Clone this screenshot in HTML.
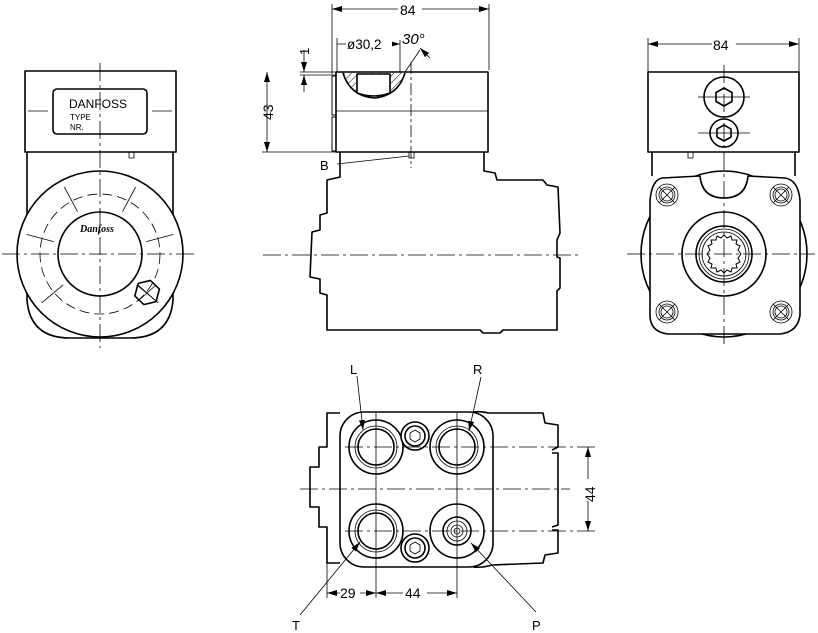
<!DOCTYPE html>
<html><head><meta charset="utf-8"><style>html,body{margin:0;padding:0;background:#fff}svg{display:block}</style></head><body>
<svg width="818" height="633" viewBox="0 0 818 633" xmlns="http://www.w3.org/2000/svg" font-family="Liberation Sans, sans-serif">
<defs>
<marker id="a" viewBox="0 0 10 6" refX="10" refY="3" markerWidth="10" markerHeight="6" orient="auto-start-reverse" markerUnits="userSpaceOnUse"><path d="M0,0L10,3L0,6z" fill="#000"/></marker>
<pattern id="h" width="5" height="5" patternUnits="userSpaceOnUse" patternTransform="rotate(45)"><line x1="0" y1="0" x2="0" y2="5" stroke="#000" stroke-width="1"/></pattern>
</defs>
<g fill="none" stroke="#000" stroke-width="1.6" stroke-linejoin="round">
<!-- LEFT VIEW -->
<rect x="25" y="71" width="151" height="81"/>
<rect x="53" y="89" width="94" height="45" rx="4"/>
<path d="M27,152 L27,300 Q30,338 70,338 L130,338 Q170,338 173,300 L173,152"/>
<circle cx="100" cy="254" r="83" fill="#fff"/>
<circle cx="100" cy="254" r="42"/>
<polygon points="147,280 158,286 158,299 147,305 136,299 136,286" transform="rotate(15 147 293)"/>
<rect x="129" y="152" width="5" height="6" stroke-width="0.8"/>
</g>
<g fill="none" stroke="#000" stroke-width="0.8">
<circle cx="100" cy="254" r="60" stroke-dasharray="10,5"/>
<line x1="100" y1="63" x2="100" y2="348" stroke-dasharray="18,4,3,4"/>
<line x1="2" y1="254" x2="198" y2="254" stroke-dasharray="18,4,3,4"/>
<line x1="28" y1="111" x2="48" y2="111"/><line x1="152" y1="111" x2="172" y2="111"/>
<line x1="138" y1="285" x2="156" y2="301"/><line x1="138" y1="301" x2="156" y2="285"/>
<g transform="translate(100 254)">
<line x1="0" y1="-48" x2="0" y2="-76" transform="rotate(-28)"/>
<line x1="0" y1="-48" x2="0" y2="-76" transform="rotate(28)"/>
<line x1="0" y1="-48" x2="0" y2="-76" transform="rotate(-75)"/>
<line x1="0" y1="-48" x2="0" y2="-76" transform="rotate(75)"/>
<line x1="0" y1="-48" x2="0" y2="-76" transform="rotate(-130)"/>
<line x1="0" y1="-48" x2="0" y2="-76" transform="rotate(130)"/>
</g>
</g>
<text x="69" y="108" font-size="12">DANFOSS</text>
<text x="70" y="120" font-size="8">TYPE</text>
<text x="70" y="130" font-size="8">NR.</text>
<text x="80" y="232" font-size="10" font-style="italic" font-weight="bold" font-family="Liberation Serif, serif">Danfoss</text>

<!-- MIDDLE VIEW -->
<g fill="none" stroke="#000" stroke-width="1.6" stroke-linejoin="round">
<rect x="336" y="72" width="152" height="80"/>
<rect x="332" y="76" width="4" height="39" stroke-width="1"/>
<rect x="332" y="117" width="4" height="34" stroke-width="1"/>
<path d="M340,152 L340,177 L327,180 L327,213 L320,215 L320,230 L312,232 L310,277 L320,279 L320,293 L327,295 L327,330 L480,330 L483,333 L500,333 L503,330 L557,330 L557,291 L560,288 L560,258 L557,257 L557,240 L560,233 L558,187 L547,185 L543,180 L497,180 L495,173 L484,171 L484,152"/>
<path d="M343,73 Q350,96 374,98 Q398,96 405,73" fill="url(#h)"/>
<path d="M357,74 L357,93 Q374,99 390,93 L390,74 Z" fill="#fff"/>
</g>
<g fill="none" stroke="#000" stroke-width="0.8">
<line x1="336" y1="111" x2="488" y2="111"/>
<line x1="411" y1="62" x2="411" y2="168" stroke-dasharray="12,3,3,3"/>
<line x1="263" y1="255" x2="580" y2="255" stroke-dasharray="18,4,3,4"/>
<rect x="409" y="152" width="5" height="6"/>
<line x1="332" y1="4" x2="332" y2="74"/><line x1="489" y1="4" x2="489" y2="70"/>
<line x1="332" y1="9" x2="489" y2="9" marker-start="url(#a)" marker-end="url(#a)"/>
<line x1="337" y1="38" x2="337" y2="72"/><line x1="400" y1="40" x2="400" y2="72"/>
<line x1="337" y1="44" x2="400" y2="44" marker-end="url(#a)"/>
<line x1="405" y1="72" x2="420" y2="50"/>
<line x1="430" y1="58" x2="420" y2="48" marker-end="url(#a)"/>
<line x1="300" y1="72" x2="336" y2="72"/><line x1="300" y1="75" x2="336" y2="75"/>
<line x1="304" y1="50" x2="304" y2="72" marker-end="url(#a)"/>
<line x1="304" y1="92" x2="304" y2="75" marker-end="url(#a)"/>
<line x1="262" y1="152" x2="336" y2="152"/>
<line x1="267" y1="72" x2="267" y2="152" marker-start="url(#a)" marker-end="url(#a)"/>
<line x1="337" y1="164" x2="409" y2="156"/>
</g>
<rect x="398" y="2" width="24" height="14" fill="#fff"/>
<text x="400" y="15" font-size="14">84</text>
<rect x="346" y="36" width="46" height="14" fill="#fff"/>
<text x="347" y="49" font-size="13.5">ø30,2</text>
<text x="402" y="44" font-size="15" font-style="italic">30°</text>
<text x="309" y="55" font-size="13" transform="rotate(-90 309 55)">1</text>
<text x="273" y="120" font-size="14" transform="rotate(-90 273 120)">43</text>
<text x="320" y="170" font-size="13">B</text>

<!-- RIGHT VIEW -->
<g fill="none" stroke="#000" stroke-width="1.6" stroke-linejoin="round">
<rect x="648" y="72" width="151" height="80"/>
<path d="M652,152 L652,176 M795,152 L795,176"/>
<circle cx="724" cy="254" r="83"/>
<path d="M662,178 L700,176 Q702,198 724,198 Q746,198 748,176 L785,178 Q798,180 800,200 L800,315 Q798,332 780,334 L668,334 Q650,332 650,315 L650,200 Q652,180 662,178 Z" fill="#fff"/>
<circle cx="724" cy="97" r="20"/><circle cx="724" cy="133" r="14"/>
<polygon points="724,88 732,92.5 732,101.5 724,106 716,101.5 716,92.5"/>
<polygon points="724,125 731,129 731,137 724,141 717,137 717,129"/>
<circle cx="724" cy="254" r="42"/>
<circle cx="724" cy="254" r="28"/>
</g>
<g fill="none" stroke="#000" stroke-width="0.8">
<circle cx="724" cy="254" r="25"/><circle cx="724" cy="254" r="22"/>
<polygon stroke-width="1" points="724,235 727,238 731,236 732,240 737,240 736,244 740,246 738,250 741,254 738,258 740,262 736,264 737,268 732,268 731,272 727,270 724,273 721,270 717,272 716,268 711,268 712,264 708,262 710,258 707,254 710,250 708,246 712,244 711,240 716,240 717,236 721,238"/>
<line x1="724" y1="65" x2="724" y2="345" stroke-dasharray="18,4,3,4"/>
<line x1="627" y1="254" x2="815" y2="254" stroke-dasharray="18,4,3,4"/>
<line x1="698" y1="97" x2="750" y2="97"/><line x1="698" y1="133" x2="750" y2="133"/>
<rect x="688" y="152" width="5" height="6"/>
<line x1="648" y1="38" x2="648" y2="72"/><line x1="799" y1="38" x2="799" y2="72"/>
<line x1="648" y1="44" x2="799" y2="44" marker-start="url(#a)" marker-end="url(#a)"/>
<g id="x1"><circle cx="667" cy="195" r="11"/><circle cx="667" cy="195" r="8"/><circle cx="667" cy="195" r="6"/><line x1="659" y1="187" x2="675" y2="203"/><line x1="659" y1="203" x2="675" y2="187"/></g>
<use href="#x1" x="114"/><use href="#x1" y="117"/><use href="#x1" x="114" y="117"/>
</g>
<rect x="712" y="37" width="24" height="14" fill="#fff"/>
<text x="713" y="50" font-size="14">84</text>

<!-- BOTTOM VIEW -->
<g fill="none" stroke="#000" stroke-width="1.6" stroke-linejoin="round">
<path d="M340,413 L327,413 L327,447 L319,447 L319,467 L310,467 L310,507 L319,507 L319,527 L327,527 L327,563 L340,563"/>
<path d="M473,412 Q482,411 488,413 L543,413 L545,423 L558,425 L558,447 L552,450 M552,453 L558,453 L558,525 L552,527 M552,530 L558,530 L558,553 L545,555 L543,563 L492,565 Q482,568 473,567"/>
<rect x="340" y="412" width="153" height="155" rx="24" fill="#fff"/>
<circle cx="376" cy="447" r="27"/><circle cx="376" cy="447" r="18"/>
<circle cx="457" cy="447" r="27"/><circle cx="457" cy="447" r="18"/>
<circle cx="376" cy="531" r="27"/><circle cx="376" cy="531" r="18"/>
<circle cx="457" cy="531" r="27"/><circle cx="457" cy="531" r="14"/>
<circle cx="415" cy="436" r="14" fill="#fff"/><circle cx="415" cy="548" r="14" fill="#fff"/>
<circle cx="415" cy="436" r="10"/><circle cx="415" cy="548" r="10"/>
</g>
<g fill="none" stroke="#000" stroke-width="0.8">
<polygon points="415,430 420,433 420,439 415,442 410,439 410,433"/>
<polygon points="415,542 420,545 420,551 415,554 410,551 410,545"/>
<circle cx="457" cy="531" r="10"/><circle cx="457" cy="531" r="6"/><circle cx="457" cy="531" r="3"/>
<circle cx="376" cy="447" r="21"/><circle cx="457" cy="447" r="21"/><circle cx="376" cy="531" r="21"/>
<line x1="345" y1="447" x2="595" y2="447" stroke-dasharray="18,4,3,4"/>
<line x1="345" y1="531" x2="595" y2="531" stroke-dasharray="18,4,3,4"/>
<line x1="300" y1="489" x2="570" y2="489" stroke-dasharray="18,4,3,4"/>
<line x1="376" y1="413" x2="376" y2="598"/><line x1="457" y1="413" x2="457" y2="598"/>
<line x1="327" y1="563" x2="327" y2="598"/>
<line x1="588" y1="447" x2="588" y2="531" marker-start="url(#a)" marker-end="url(#a)"/>
<line x1="327" y1="593" x2="376" y2="593" marker-start="url(#a)" marker-end="url(#a)"/>
<line x1="376" y1="593" x2="457" y2="593" marker-start="url(#a)" marker-end="url(#a)"/>
<line x1="357" y1="376" x2="363" y2="430" marker-end="url(#a)"/>
<line x1="481" y1="377" x2="469" y2="431" marker-end="url(#a)"/>
<line x1="300" y1="615" x2="360" y2="542" marker-end="url(#a)"/>
<line x1="536" y1="612" x2="471" y2="543" marker-end="url(#a)"/>
</g>
<rect x="340" y="586" width="20" height="14" fill="#fff"/>
<rect x="403" y="586" width="24" height="14" fill="#fff"/>
<rect x="581" y="479" width="14" height="22" fill="#fff"/>
<text x="340" y="598" font-size="14">29</text>
<text x="405" y="598" font-size="14">44</text>
<text x="595" y="502" font-size="14" transform="rotate(-90 595 502)">44</text>
<text x="350" y="374" font-size="13">L</text>
<text x="473" y="374" font-size="13">R</text>
<text x="292" y="630" font-size="13">T</text>
<text x="532" y="630" font-size="13">P</text>
</svg>
</body></html>
